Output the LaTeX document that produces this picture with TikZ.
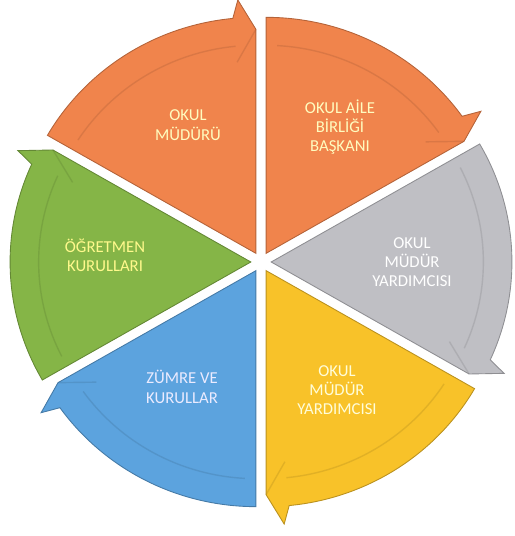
\documentclass[tikz,border=0pt]{standalone}
\usepackage{fontspec}
\setmainfont{Carlito}
\definecolor{orng}{HTML}{F0844C}
\definecolor{gry}{HTML}{BFBFC4}
\definecolor{ylw}{HTML}{F8C229}
\definecolor{blu}{HTML}{5CA3DE}
\definecolor{grn}{HTML}{85B547}
\begin{document}
\begin{tikzpicture}[x=0.02cm,y=0.02cm,
  lbl/.style={align=center,font=\fontsize{9.5}{11}\selectfont,inner sep=0pt},
  edge/.style={line width=0.5pt}]
\useasboundingbox (0,0) rectangle (514,536);
\def\R{236}
\foreach \a/\col in {150/orng,90/orng,30/gry,-30/ylw,-90/blu,210/grn}{
  \pgfmathsetmacro\m{\a-30}
  \pgfmathsetmacro\b{\a-60}
  \pgfmathsetmacro\bb{\a-60+5.5}
  \pgfmathsetmacro\bt{\a-60+4}
  \pgfmathsetmacro\as{\a-3}
  \pgfmathsetmacro\Ro{\R+18}
  \pgfmathsetmacro\Rc{\R-12}
  \pgfmathsetmacro\Ri{\R-28}
  \pgfmathsetmacro\Rb{\R-44}
  \begin{scope}[shift={(261,274)},xscale=1.02,shift={(\m:10)}]
    \fill[\col,draw=\col!75!black,edge] (0,0) -- (\a:\R)
      arc[start angle=\a,end angle=\bb,radius=\R]
      -- (\bt:\Ro) -- (\b:\Rc) -- cycle;
    \draw[\col!70!black,opacity=.3,line width=0.8pt]
      (\as:\Ri) arc[start angle=\as,end angle=\bb,radius=\Ri];
    \draw[\col!70!black,opacity=.3,line width=0.8pt]
      (\bb:\Rb) -- (\b:\Rc);
  \end{scope}
}
\node[lbl,text=white!75!yellow] (mudur) at (188,411) {OKUL\\MÜDÜRÜ};
\node[lbl,text=white!75!yellow] (aile) at (340,409) {OKUL AİLE\\BİRLİĞİ\\BAŞKANI};
\node[lbl,text=white] (yard1) at (412,274) {OKUL\\MÜDÜR\\YARDIMCISI};
\node[lbl,text=white!85!yellow] (yard2) at (337,146) {OKUL\\MÜDÜR\\YARDIMCISI};
\node[lbl,text=white!92!blue] (zumre) at (182,149) {ZÜMRE VE\\KURULLAR};
\node[lbl,text=yellow!45!white] (ogretmen) at (105,281) {ÖĞRETMEN\\KURULLARI};
\end{tikzpicture}
\end{document}
